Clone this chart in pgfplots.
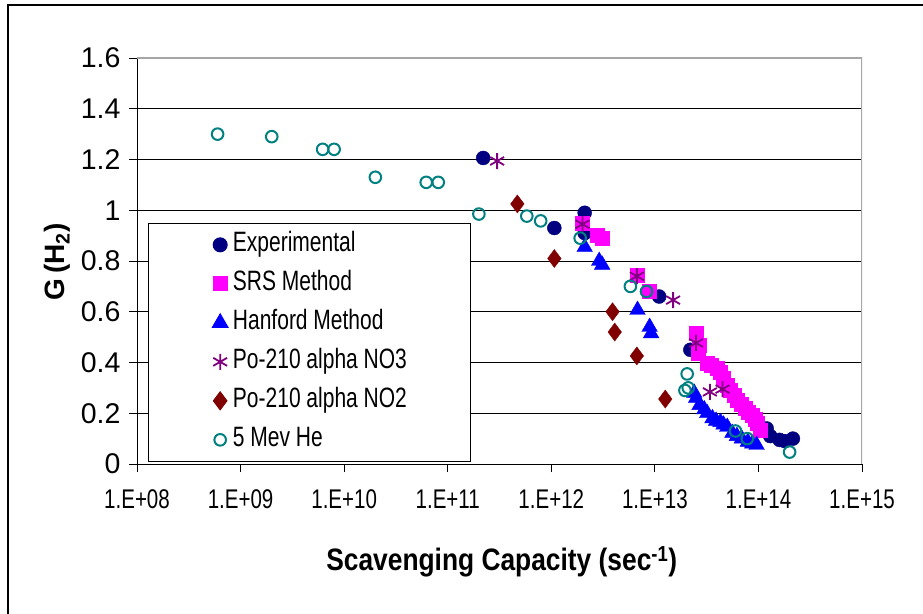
\documentclass[border=0pt]{standalone}
\usepackage{pgfplots}
\pgfplotsset{compat=1.18}
\usepackage{fontspec}
\setmainfont{Liberation Sans}
\usepackage{graphicx}

\definecolor{cExp}{RGB}{0,0,128}
\definecolor{cSRS}{RGB}{255,0,255}
\definecolor{cHan}{RGB}{0,0,255}
\definecolor{cNO3}{RGB}{128,0,128}
\definecolor{cNO2}{RGB}{128,0,0}
\definecolor{cHe}{RGB}{0,128,128}

% narrow some horizontal text, the source image is stretched vertically
\newcommand{\nx}[2]{\scalebox{#1}[1]{#2}}
\newcommand{\xt}[1]{\nx{0.76}{#1}}
\newcommand{\legtxt}[1]{\nx{0.75}{#1}}

\begin{document}
\begin{tikzpicture}[x=1pt,y=1pt]
\useasboundingbox (0,0) rectangle (923,613);
\draw[line width=1.2pt] (8,-5) -- (8,608) -- (930,608);
\begin{axis}[
  at={(137pt,149pt)}, anchor=south west,
  scale only axis, width=725pt, height=406pt,
  xmode=log, xmin=1e8, xmax=1e15,
  ymin=0, ymax=1.6,
  axis x line*=bottom, axis y line*=left,
  axis line style={black, line width=1pt},
  tick align=outside, major tick length=8pt,
  tick style={black, line width=0.9pt},
  xminorticks=false,
  ymajorgrids, grid style={black, line width=0.9pt},
  xtick={1e8,1e9,1e10,1e11,1e12,1e13,1e14,1e15},
  xticklabels={\xt{1.E+08},\xt{1.E+09},\xt{1.E+10},\xt{1.E+11},\xt{1.E+12},\xt{1.E+13},\xt{1.E+14},\xt{1.E+15}},
  ytick={0,0.2,0.4,0.6,0.8,1,1.2,1.4,1.6},
  yticklabels={0,0.2,0.4,0.6,0.8,1,1.2,1.4,1.6},
  xticklabel style={font=\fontsize{27}{27}\selectfont, yshift=-14pt},
  yticklabel style={font=\fontsize{28.5}{28.5}\selectfont, xshift=-5pt},
  xlabel={\nx{0.85}{\bfseries Scavenging Capacity (sec\textsuperscript{-1})}},
  xlabel style={font=\fontsize{31}{31}\selectfont, at={(axis description cs:0.503,-0.24)}, anchor=center},
  ylabel={\bfseries G\,(H\textsubscript{2})},
  ylabel style={font=\fontsize{28}{28}\selectfont, at={(axis description cs:-0.11,0.4975)}, anchor=center},
  legend style={at={(rel axis cs:0.015,0.594)}, anchor=north west,
    draw=black, line width=1pt, fill=white,
    font=\fontsize{28}{28}\selectfont,
    inner xsep=64pt, inner ysep=10pt, row sep=16pt,
    nodes={inner sep=0pt, text height=18pt, text depth=5pt},
    /tikz/every odd column/.append style={column sep=5pt}},
  legend cell align=left,
]
\addplot[only marks, mark=*, mark size=7pt, color=cExp] coordinates {
  (2.2e11,1.206) (1.07e12,0.93) (2.1e12,0.99) (2.1e12,0.91)
  (1.1e13,0.66) (2.2e13,0.45) (4.5e13,0.35)
  (1.2e14,0.14) (1.3e14,0.11) (1.6e14,0.095) (1.8e14,0.09) (2.15e14,0.10)
};
\addlegendentry{\legtxt{Experimental}}
\addplot[only marks, mark=square*, mark size=7pt, color=cSRS] coordinates {
  (2.0e12,0.95) (2.8e12,0.90) (3.1e12,0.89) (6.8e12,0.745) (8.9e12,0.68)
  (2.5e13,0.516) (2.6e13,0.437) (2.7e13,0.47) (3.2e13,0.398) (3.5e13,0.39)
  (4.0e13,0.378) (4.3e13,0.36) (4.6e13,0.339) (5.0e13,0.31) (5.3e13,0.29)
  (5.8e13,0.27) (6.2e13,0.25) (6.8e13,0.235) (7.4e13,0.22) (8.0e13,0.205)
  (8.7e13,0.193) (9.3e13,0.175) (9.8e13,0.16) (1.03e14,0.134)
};
\addlegendentry{\legtxt{SRS Method}}
\addplot[only marks, mark=triangle*, mark size=9pt, color=cHan] coordinates {
  (2.1e12,0.855) (2.9e12,0.80) (3.1e12,0.785) (6.8e12,0.607) (8.9e12,0.54)
  (9.2e12,0.515) (2.4e13,0.28) (2.5e13,0.26) (2.7e13,0.232) (3.0e13,0.215)
  (3.2e13,0.20) (3.6e13,0.18) (3.9e13,0.17) (4.3e13,0.165) (4.6e13,0.155)
  (5.0e13,0.146) (5.6e13,0.122) (6.2e13,0.11) (6.9e13,0.10) (7.9e13,0.087)
  (8.7e13,0.08) (9.6e13,0.075)
};
\addlegendentry{\legtxt{Hanford Method}}
\addplot[only marks, mark=asterisk, mark size=8pt, color=cNO3, mark options={line width=1.8pt}] coordinates {
  (3.0e11,1.194) (2.0e12,0.945) (6.7e12,0.74) (1.5e13,0.646)
  (2.5e13,0.477) (3.4e13,0.284) (4.5e13,0.295)
};
\addlegendentry{\legtxt{Po-210 alpha NO3}}
\addplot[only marks, mark=diamond*, mark size=9pt, color=cNO2] coordinates {
  (4.7e11,1.025) (1.07e12,0.81) (3.9e12,0.60) (4.1e12,0.52)
  (6.7e12,0.426) (1.26e13,0.256)
};
\addlegendentry{\legtxt{Po-210 alpha NO2}}
\addplot[only marks, mark=o, mark size=5.8pt, color=cHe, mark options={line width=2pt}] coordinates {
  (6.0e8,1.30) (2.0e9,1.29) (6.2e9,1.24) (8.0e9,1.24) (2.0e10,1.13)
  (6.2e10,1.11) (8.1e10,1.11) (2.0e11,0.985) (5.8e11,0.977) (7.9e11,0.958)
  (1.9e12,0.89) (5.8e12,0.70) (8.3e12,0.68) (2.05e13,0.355) (1.95e13,0.29)
  (2.1e13,0.30) (6.0e13,0.13) (7.8e13,0.10) (2.0e14,0.047)
};
\addlegendentry{\legtxt{5 Mev He}}
\draw[gray!70, line width=1.3pt] (rel axis cs:0,1) -- (rel axis cs:1,1) -- (rel axis cs:1,0);
\end{axis}
\end{tikzpicture}
\end{document}
